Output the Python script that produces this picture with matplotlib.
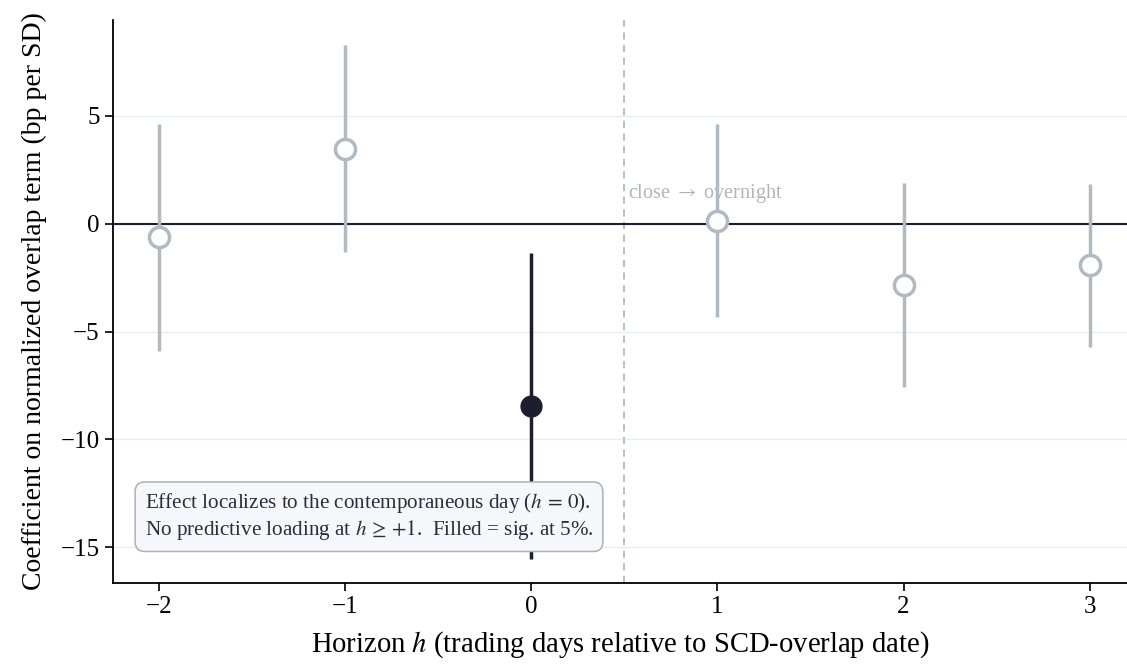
import numpy as np
import matplotlib.pyplot as plt

# Event-study coefficients
horizons = [-2, -1, 0, 1, 2, 3]
coef = [-0.62, 3.47, -8.46, 0.12, -2.84, -1.93]
ci_lo = [-5.88, -1.33, -15.56, -4.33, -7.57, -5.71]
ci_hi = [4.62, 8.29, -1.36, 4.62, 1.88, 1.85]
significant = [False, False, True, False, False, False]

plt.rcParams['font.family'] = ['Liberation Serif', 'DejaVu Serif']
plt.rcParams['mathtext.fontset'] = 'stix'

grey = '#b1b9c1'
dark = '#1c1d2e'

fig = plt.figure(figsize=(11.27, 6.65), dpi=100)
ax = fig.add_axes([113 / 1127, 82 / 665, 1 - 113 / 1127, 563 / 665])

ax.axhline(0, color=dark, lw=1.5, zorder=2)
ax.axvline(0.5, color='#b5b9bf', lw=1.3, ls=(0, (4, 3)), zorder=1)
ax.text(0.52, 1.4, r'close $\rightarrow$ overnight', color='#b0b5bc',
        fontsize=14.5, va='center', ha='left', zorder=1)

for h, c, lo, hi, sig in zip(horizons, coef, ci_lo, ci_hi, significant):
    col = dark if sig else grey
    ax.plot([h, h], [lo, hi], color=col, lw=2.5, solid_capstyle='butt', zorder=3)
    if sig:
        ax.plot(h, c, 'o', ms=15, mfc=dark, mec=dark, mew=1, zorder=4)
    else:
        ax.plot(h, c, 'o', ms=14.5, mfc='white', mec=grey, mew=2.5, zorder=4)

ax.set_xlim(-2.245, 3.2)
ax.set_ylim(-16.65, 9.43)
ax.set_xticks(horizons)
ax.set_xticklabels([f'{h}'.replace('-', '\u2212') for h in horizons])
ax.set_yticks([-15, -10, -5, 0, 5])
ax.set_yticklabels(['\u221215', '\u221210', '\u22125', '0', '5'])
ax.tick_params(labelsize=18, length=6, width=1.2, direction='out', color='black')
ax.yaxis.grid(True, color='#e9ecef', lw=1)
ax.set_axisbelow(True)

for s in ['top', 'right']:
    ax.spines[s].set_visible(False)
for s in ['left', 'bottom']:
    ax.spines[s].set_linewidth(1.3)

ax.set_xlabel(r'Horizon $h$ (trading days relative to SCD-overlap date)', fontsize=20.6, labelpad=8)
ax.set_ylabel('Coefficient on normalized overlap term (bp per SD)', fontsize=20, labelpad=10)

ax.text(-2.075, -13.58,
        'Effect localizes to the contemporaneous day ($h\\,=\\,0$).\n'
        'No predictive loading at $h\\,\\geq\\,{+}1$.  Filled = sig. at 5%.',
        fontsize=15.2, color='#2a2e3a', va='center', ha='left', linespacing=1.15,
        zorder=6,
        bbox=dict(boxstyle='round,pad=0.45', fc='#f5f7fa', ec='#aab1ba', lw=1.1))

fig.savefig('out.png', dpi=100)
